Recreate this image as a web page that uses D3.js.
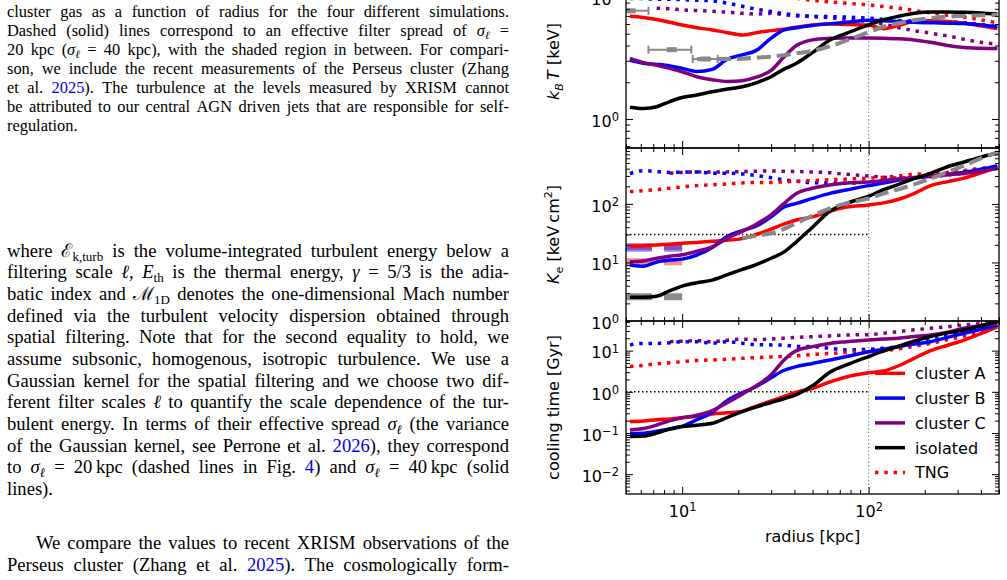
<!DOCTYPE html>
<html><head><meta charset="utf-8">
<script src="https://cdn.jsdelivr.net/npm/d3@7"></script>
<style>html,body{margin:0;padding:0;background:#fff;}svg{display:block;}</style>
</head><body>
<svg id="c" width="1007" height="580"></svg>
<script>
// ---------------- DATA ----------------
const radius = [5.25, 6.2, 7.3, 8.6, 10, 12, 14.5, 17.5, 21, 25, 30, 35, 41, 50, 62, 76, 100, 120, 145, 175, 215, 265, 325, 400, 490];

// temperature k_B T [keV]
const kT_A   = [6.95,6.8,6.55,6.2,5.9,5.6,5.37,5.1,4.88,5.1,5.3,5.45,5.65,5.9,6.0,5.95,5.9,5.5,5.85,6.3,6.4,6.3,6.1,5.8,5.5];
const kT_B   = [3.04,2.86,2.8,2.72,2.6,2.45,2.55,3.1,3.35,3.65,4.6,5.35,5.6,5.85,6.05,6.2,6.45,6.4,6.3,6.2,6.15,6.1,6.05,5.9,5.7];
const kT_C   = [3.14,2.9,2.75,2.6,2.44,2.22,2.1,2.03,2.06,2.2,2.5,3.2,4.0,4.45,4.58,4.62,4.62,4.6,4.55,4.45,4.25,4.0,3.85,3.8,3.78];
const kT_iso = [1.25,1.22,1.26,1.39,1.5,1.57,1.67,1.76,1.84,1.98,2.22,2.55,2.86,3.5,4.44,5.04,5.9,6.5,6.95,7.35,7.55,7.55,7.5,7.4,7.26];
const kT_tngA = [12.5,12.3,12.0,11.8,11.5,11.2,11.0,10.8,10.5,10.3,10.1,9.95,9.75,9.4,9.1,8.9,8.6,8.35,8.1,7.75,7.4,7.1,6.85,6.5,6.15];
const kT_tngB = [9.7,9.7,9.6,9.6,9.5,9.4,9.3,8.9,8.4,7.95,7.6,7.3,7.1,6.95,6.9,6.85,6.7,6.55,6.4,6.35,6.3,6.25,6.15,5.95,5.7];
const kT_tngC = [null,null,8.1,8.0,7.85,7.75,7.65,7.5,7.35,7.25,7.35,7.15,7.0,6.9,6.75,6.55,6.3,6.0,5.6,5.3,5.05,4.8,4.5,4.25,4.1];
const kT_perseus = [null,null,null,null,null,3.1,3.1,3.1,3.12,3.18,3.24,3.33,3.45,3.62,3.95,4.4,5.15,5.7,6.1,6.45,6.7,6.9,7.0,7.08,7.12];

// XRISM Perseus bins
const xrismR   = [5.3, 8.8, 13.3];
const xrismRlo = [4.2, 6.6, 11.4];
const xrismRhi = [6.6, 11.2, 15.5];
const xrismT   = [7.7, 3.7, 3.1];

// entropy K_e [keV cm^2]
const K_A   = [19,19.3,19.8,20.5,21.2,22,23,24,25.5,30,37,45,53,60,75,88,96,104,120,150,205,240,275,340,420];
const K_B   = [9.0,8.6,10.2,11,11.4,13.4,18,28,35,42,60,88,102,124,151,173,205,226,256,275,297,320,345,390,450];
const K_C   = [10.3,10.6,11.8,12.8,13.5,15.5,18.4,26,34,45,65,100,151,185,210,228,236,250,265,282,300,315,330,360,400];
const K_iso = [2.55,2.55,2.65,3.3,3.95,4.5,5.0,6.2,7.6,9.2,11.8,15,22.5,40,75,102,135,175,215,270,333,431,520,630,740];
const K_tngA = [162,168,175,185,195,205,212,220,228,232,232,238,243,250,258,266,275,285,300,320,330,345,370,405,430];
const K_tngB = [330,370,355,345,348,350,335,335,325,305,280,258,243,230,228,225,238,250,265,282,300,325,360,395,430];
const K_tngC = [null,null,null,335,345,350,350,352,355,360,365,360,358,350,340,320,300,285,275,280,290,310,340,375,410];
const K_perseus = [null,null,null,null,null,null,null,null,26,28.5,31.5,37,47,63,84,102,124,150,178,215,270,350,450,600,760];
// initial core entropy (thick translucent dashes)
const coreRadius = [5, 10];
const coreK = [10.3, 17.5, 18.8, 2.6];   // A, B, C, isolated
const K_threshold = 30;

// cooling time [Gyr]
const tc_A   = [0.19,0.195,0.21,0.22,0.235,0.25,0.29,0.31,0.34,0.45,0.6,0.76,0.98,1.22,1.75,2.3,2.9,3.2,4.3,6.5,10,13.5,18,26,38];
const tc_B   = [0.097,0.099,0.11,0.125,0.145,0.21,0.32,0.62,0.95,1.35,2.2,3.3,4.1,4.9,5.9,7.2,9.4,10.8,12.6,14.5,16.5,21,26.5,33,42];
const tc_C   = [0.119,0.128,0.155,0.2,0.235,0.27,0.35,0.55,0.88,1.4,2.6,5.8,10,12.5,15,16.5,18.2,19.2,20,22,24,28,35,41,47];
const tc_iso = [0.082,0.084,0.1,0.125,0.143,0.155,0.172,0.24,0.33,0.43,0.55,0.68,0.86,1.4,3.0,4.5,7.2,9.7,12.8,17,22,27,32,40,51];
const tc_tngA = [4.1,4.4,4.8,5.1,5.4,5.8,5.95,6.2,6.5,6.8,7.0,7.2,7.5,8.1,8.6,9.0,9.5,10.1,11,12.8,15,18.5,22.5,29,38];
const tc_tngB = [13.8,15,15,15.5,16.5,16.5,15.2,16.5,15.2,14,13.8,13.6,12.6,12.5,11.4,10.4,10.8,11.5,12.6,15.5,20,24,29,37,46];
const tc_tngC = [null,null,null,16.5,17,17.5,16.5,18,19,18.5,19.2,20,21,21.9,22.8,24,24.5,26.5,29,32,35,38,42,45,48];
const tc_threshold = 1;
const r_vline = 100;

const legendLabels = ["cluster A", "cluster B", "cluster C", "isolated", "TNG"];
const seriesColors = ["#ff0000", "#0000ff", "#800080", "#000000"];

// Text
const captionLines = [
  "cluster gas as a function of radius for the four different simulations.",
  "Dashed (solid) lines correspond to an effective filter spread of *σ*_[ℓ] =",
  "20 kpc (*σ*_[ℓ] = 40 kpc), with the shaded region in between. For compari-",
  "son, we include the recent measurements of the Perseus cluster (Zhang",
  "et al. #2025#). The turbulence at the levels measured by XRISM cannot",
  "be attributed to our central AGN driven jets that are responsible for self-",
  "regulation."
];
const bodyLines = [
  "where ℰ_{k,turb} is the volume-integrated turbulent energy below a",
  "filtering scale *ℓ*, *E*_{th} is the thermal energy, *γ* = 5/3 is the adia-",
  "batic index and ℳ_{1D} denotes the one-dimensional Mach number",
  "defined via the turbulent velocity dispersion obtained through",
  "spatial filtering. Note that for the second equality to hold, we",
  "assume subsonic, homogenous, isotropic turbulence. We use a",
  "Gaussian kernel for the spatial filtering and we choose two dif-",
  "ferent filter scales *ℓ* to quantify the scale dependence of the tur-",
  "bulent energy. In terms of their effective spread *σ*_[ℓ] (the variance",
  "of the Gaussian kernel, see Perrone et al. #2026#), they correspond",
  "to *σ*_[ℓ] = 20\u2009kpc (dashed lines in Fig. #4#) and *σ*_[ℓ] = 40\u2009kpc (solid",
  "lines)."
];
const body2Lines = [
  "We compare the values to recent XRISM observations of the",
  "Perseus cluster (Zhang et al. #2025#). The cosmologically form-"
];

// ---------------- DRAW ----------------
const svg = d3.select('#c');
svg.append('rect').attr('width',1007).attr('height',580).attr('fill','#fff');
const SERIF = "'Liberation Serif','Times New Roman',serif";
const SANS = "'DejaVu Sans', sans-serif";

function parseToken(tok){
  const runs=[]; let it=false, bl=false, buf='';
  const flush=()=>{ if(buf){ runs.push({t:buf,i:it,b:bl,sub:false}); buf=''; } };
  for(let k=0;k<tok.length;k++){
    const ch=tok[k];
    if(ch==='*'){ flush(); it=!it; }
    else if(ch==='#'){ flush(); bl=!bl; }
    else if(ch==='_' && (tok[k+1]==='{'||tok[k+1]==='[')){
      flush(); const close = tok[k+1]==='{'?'}':']'; const end=tok.indexOf(close,k+2);
      runs.push({t:tok.slice(k+2,end), i:close===']', b:bl, sub:true}); k=end;
    } else buf+=ch;
  }
  flush(); return runs;
}
function drawLine(g, str, x0, x1, y, fs, justify){
  const words = str.split(' ');
  const nodes = words.map(w=>{
    const t=g.append('text').attr('y',y).attr('fill','#000')
      .style('font-family',SERIF).style('font-size',fs+'px');
    let shifted=false;
    parseToken(w).forEach(r=>{
      const ts=t.append('tspan').text(r.t);
      if(r.i) ts.style('font-style','italic');
      if(r.b) ts.attr('fill','#0000ee');
      if(r.sub){ ts.style('font-size',(fs*0.7)+'px'); if(!shifted){ ts.attr('dy',fs*0.22); shifted=true; } }
      else if(shifted){ ts.attr('dy',-fs*0.22); shifted=false; }
    });
    return t;
  });
  const widths = nodes.map(n=>n.node().getComputedTextLength());
  const total = d3.sum(widths);
  const gap = (justify && nodes.length>1) ? (x1-x0-total)/(nodes.length-1) : fs*0.25;
  let xx=x0; nodes.forEach((n,k)=>{ n.attr('x',xx); xx+=widths[k]+gap; });
}
const tg = svg.append('g');
captionLines.forEach((l,i)=>drawLine(tg,l,7,509,16.5+i*19.05,16.4,i<captionLines.length-1));
bodyLines.forEach((l,i)=>drawLine(tg,l,7,509,256.7+i*21.66,18.6,i<bodyLines.length-1));
body2Lines.forEach((l,i)=>drawLine(tg,l,i===0?36:7,509,549.3+i*21.5,18.6,true));

// chart
const X0=626, X1=999;
const x = d3.scaleLog().domain([5,500]).range([X0,X1]);
const panels = [
  {y:d3.scaleLog().domain([0.578,15.15]).range([148,-25]), top:-25, bottom:148},
  {y:d3.scaleLog().domain([1,900]).range([321,148]), top:148, bottom:321},
  {y:d3.scaleLog().domain([0.0033,52.5]).range([494,321]), top:321, bottom:494}
];
const defs = svg.append('defs');
panels.forEach((p,i)=>{
  defs.append('clipPath').attr('id','clip'+i).append('rect')
    .attr('x',X0).attr('y',p.top).attr('width',X1-X0).attr('height',p.bottom-p.top);
  p.g = svg.append('g').attr('clip-path',`url(#clip${i})`);
});
const SOLID=3.5, DOT="3.5,5.8", GDASH="14,6";
function addLine(p, vals, color, w, dash, opacity){
  const pts = radius.map((r,i)=>[r, vals[i]]);
  const line = d3.line().defined(d=>d[1]!=null).x(d=>x(d[0])).y(d=>p.y(d[1])).curve(d3.curveMonotoneX);
  p.g.append('path').attr('d',line(pts)).attr('fill','none').attr('stroke',color)
    .attr('stroke-width',w).attr('stroke-dasharray',dash||null).attr('opacity',opacity==null?1:opacity);
}
// core entropy translucent dashes
coreK.forEach((k,i)=>{
  const p=panels[1];
  p.g.append('path').attr('d',d3.line().x(d=>x(d)).y(()=>p.y(k))(coreRadius))
    .attr('stroke',seriesColors[i]).attr('stroke-width',7).attr('stroke-dasharray','26,12')
    .attr('opacity',0.45).attr('fill','none');
});
const sets = [
  [kT_A,kT_B,kT_C,kT_iso,kT_tngA,kT_tngB,kT_tngC,kT_perseus],
  [K_A,K_B,K_C,K_iso,K_tngA,K_tngB,K_tngC,K_perseus],
  [tc_A,tc_B,tc_C,tc_iso,tc_tngA,tc_tngB,tc_tngC,null]
];
panels.forEach((p,i)=>{
  const s=sets[i];
  p.g.append('line').attr('x1',x(r_vline)).attr('x2',x(r_vline)).attr('y1',p.top).attr('y2',p.bottom)
    .attr('stroke','#777').attr('stroke-width',1.1).attr('stroke-dasharray','1.1,2.6');
  if(i===1||i===2){
    const v = i===1?K_threshold:tc_threshold;
    p.g.append('line').attr('x1',x(5)).attr('x2',x(r_vline)).attr('y1',p.y(v)).attr('y2',p.y(v))
      .attr('stroke','#000').attr('stroke-width',1.5).attr('stroke-dasharray','1.5,2.5');
  }
  addLine(p,s[6],seriesColors[2],SOLID,DOT);
  addLine(p,s[5],seriesColors[1],SOLID,DOT);
  addLine(p,s[4],seriesColors[0],SOLID,DOT);
  addLine(p,s[0],seriesColors[0],SOLID);
  addLine(p,s[1],seriesColors[1],SOLID);
  addLine(p,s[2],seriesColors[2],SOLID);
  addLine(p,s[3],seriesColors[3],SOLID);
  if(s[7]) addLine(p,s[7],'#888',4,GDASH);
});
// XRISM error bars
{
  const p=panels[0];
  xrismR.forEach((r,i)=>{
    const yy=p.y(xrismT[i]);
    p.g.append('line').attr('x1',x(xrismRlo[i])).attr('x2',x(xrismRhi[i])).attr('y1',yy).attr('y2',yy)
      .attr('stroke','#888').attr('stroke-width',2);
    [xrismRlo[i],xrismRhi[i]].forEach(e=>p.g.append('line').attr('x1',x(e)).attr('x2',x(e))
      .attr('y1',yy-4).attr('y2',yy+4).attr('stroke','#888').attr('stroke-width',2));
    p.g.append('rect').attr('x',x(r)-5).attr('y',yy-2.5).attr('width',10).attr('height',5).attr('fill','#888');
  });
}
// axes
function decadeTicks(dom){
  const [a,b]=dom, maj=[], min=[];
  for(let e=Math.floor(Math.log10(a)); e<=Math.ceil(Math.log10(b)); e++)
    for(let k=1;k<10;k++){ const v=k*Math.pow(10,e); if(v>=a*0.9999&&v<=b*1.0001)(k===1?maj:min).push(v); }
  return {maj,min};
}
function sciFmt(sel){
  sel.selectAll('text').each(function(d){
    const e=Math.round(Math.log10(d)); const t=d3.select(this); t.text(null);
    t.append('tspan').text('10');
    t.append('tspan').attr('dy','-0.5em').style('font-size','11.5px').text(e<0?'\u2212'+(-e):String(e));
  });
}
const xt = decadeTicks(x.domain());
panels.forEach((p,i)=>{
  const g=svg.append('g');
  const yt=decadeTicks(p.y.domain());
  const st=(s)=>s.attr('font-size',16).attr('font-family',SANS);
  g.append('g').attr('transform',`translate(${X0},0)`).call(d3.axisLeft(p.y).tickValues(yt.maj).tickSize(-7).tickPadding(7)).call(st).call(sciFmt)
    .selectAll('text').attr('dy','0.45em');
  g.append('g').attr('transform',`translate(${X0},0)`).call(d3.axisLeft(p.y).tickValues(yt.min).tickSize(-4).tickFormat(''));
  g.append('g').attr('transform',`translate(${X1},0)`).call(d3.axisRight(p.y).tickValues(yt.maj).tickSize(-7).tickFormat(''));
  g.append('g').attr('transform',`translate(${X1},0)`).call(d3.axisRight(p.y).tickValues(yt.min).tickSize(-4).tickFormat(''));
  g.append('g').attr('transform',`translate(0,${p.top})`).call(d3.axisTop(x).tickValues(xt.maj).tickSize(-7).tickFormat(''));
  g.append('g').attr('transform',`translate(0,${p.top})`).call(d3.axisTop(x).tickValues(xt.min).tickSize(-4).tickFormat(''));
  const bx=g.append('g').attr('transform',`translate(0,${p.bottom})`);
  if(i===2){ bx.call(d3.axisBottom(x).tickValues(xt.maj).tickSize(-7).tickPadding(11.3)).call(st).call(sciFmt); }
  else bx.call(d3.axisBottom(x).tickValues(xt.maj).tickSize(-7).tickFormat(''));
  g.append('g').attr('transform',`translate(0,${p.bottom})`).call(d3.axisBottom(x).tickValues(xt.min).tickSize(-4).tickFormat(''));
  g.selectAll('.domain').remove();
  g.selectAll('.tick line').attr('stroke','#000').attr('stroke-width',1);
  g.selectAll('text').attr('fill','#000');
  svg.append('rect').attr('x',X0).attr('y',p.top).attr('width',X1-X0).attr('height',p.bottom-p.top)
    .attr('fill','none').attr('stroke','#000').attr('stroke-width',1.3);
});
// axis titles
function ytitle(cy){ return svg.append('text').attr('transform',`translate(559,${cy}) rotate(-90)`)
  .attr('text-anchor','middle').attr('font-family',SANS).attr('font-size',16).attr('fill','#000'); }
{
  const t=ytitle(61.5);
  t.append('tspan').text('k').style('font-style','italic');
  t.append('tspan').text('B').style('font-style','italic').style('font-size','11px').attr('dy',4);
  t.append('tspan').text('\u2009T').style('font-style','italic').attr('dy',-4);
  t.append('tspan').text(' [keV]');
  const k=ytitle(234.5);
  k.append('tspan').text('K').style('font-style','italic');
  k.append('tspan').text('e').style('font-size','11px').attr('dy',4);
  k.append('tspan').text(' [keV\u2009cm').attr('dy',-4);
  k.append('tspan').text('2').style('font-size','11px').attr('dy',-7);
  k.append('tspan').text(']').attr('dy',7);
  ytitle(407.5).text('cooling time [Gyr]');
  svg.append('text').attr('x',(X0+X1)/2).attr('y',542).attr('text-anchor','middle')
    .attr('font-family',SANS).attr('font-size',16).attr('fill','#000').text('radius [kpc]');
}
// legend
legendLabels.forEach((lab,i)=>{
  const cy=373.3+i*24.8;
  const col = i<4?seriesColors[i]:seriesColors[0];
  svg.append('line').attr('x1',875).attr('x2',905).attr('y1',cy).attr('y2',cy)
    .attr('stroke',col).attr('stroke-width',SOLID).attr('stroke-dasharray',i===4?DOT:null);
  svg.append('text').attr('x',915).attr('y',cy+5.8).attr('font-family',SANS).attr('font-size',16)
    .attr('fill','#000').text(lab);
});
</script>
</body></html>
